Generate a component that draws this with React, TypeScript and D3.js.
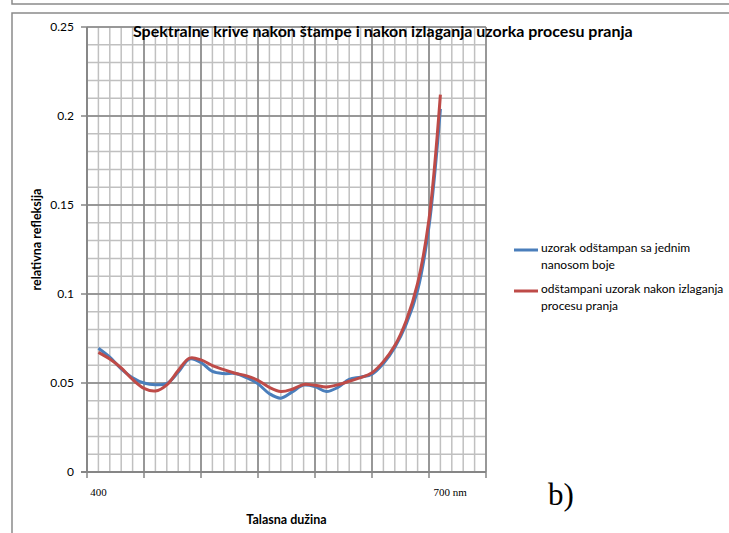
import { useEffect, useRef } from 'react';
import * as d3 from 'd3';

// Wavelengths (nm), 10 nm steps
const wavelengths = [
  400, 410, 420, 430, 440, 450, 460, 470, 480, 490, 500, 510, 520, 530, 540, 550,
  560, 570, 580, 590, 600, 610, 620, 630, 640, 650, 660, 670, 680, 690, 700,
];

// uzorak odštampan sa jednim nanosom boje
const printedValues = [
  0.0695, 0.0645, 0.058, 0.053, 0.05, 0.049, 0.0497, 0.056, 0.0635, 0.0615, 0.0565,
  0.0553, 0.0553, 0.053, 0.0495, 0.044, 0.0415, 0.045, 0.0488, 0.048, 0.0452, 0.0475,
  0.052, 0.0533, 0.055, 0.061, 0.07, 0.083, 0.102, 0.138, 0.204,
];

// odštampani uzorak nakon izlaganja procesu pranja
const washedValues = [
  0.0672, 0.0635, 0.0585, 0.052, 0.047, 0.0455, 0.049, 0.057, 0.064, 0.063, 0.0598,
  0.0575, 0.0555, 0.054, 0.0515, 0.0475, 0.0452, 0.0465, 0.0492, 0.0487, 0.0478, 0.049,
  0.051, 0.053, 0.0558, 0.062, 0.071, 0.085, 0.106, 0.142, 0.212,
];

const yTicks = [0, 0.05, 0.1, 0.15, 0.2, 0.25];
const seriesNames = [
  ['uzorak odštampan sa jednim', 'nanosom boje'],
  ['odštampani uzorak nakon izlaganja', 'procesu pranja'],
];
const seriesColors = ['#4a7ebb', '#be4b48'];

const title = 'Spektralne krive nakon štampe i nakon izlaganja uzorka procesu pranja';
const FONT = 'Lato, "Liberation Sans", sans-serif';
const SERIF = '"Liberation Serif", "DejaVu Serif", serif';

export default function App() {
  const svgRef = useRef<SVGSVGElement>(null);

  useEffect(() => {
    if (!svgRef.current) return;
    const svg = d3.select(svgRef.current);
    svg.selectAll('*').remove();

    const left = 87;
    const right = 486;
    const top = 27;
    const bottom = 472;

    const x = d3.scaleLinear().domain([390, 740]).range([left, right]);
    const y = d3.scaleLinear().domain([0, 0.25]).range([bottom, top]);

    // page frames
    svg.append('path').attr('d', 'M12,0 V4 H729').attr('fill', 'none').attr('stroke', '#8a8a8a').attr('stroke-width', 1.5);
    svg.append('path').attr('d', 'M12,533 V13 H729').attr('fill', 'none').attr('stroke', '#8a8a8a').attr('stroke-width', 1.5);

    // minor grid
    const minorY = d3.range(0, 0.2501, 0.01);
    svg.append('g')
      .selectAll('line')
      .data(minorY)
      .join('line')
      .attr('x1', left)
      .attr('x2', right)
      .attr('y1', (d) => y(d))
      .attr('y2', (d) => y(d))
      .attr('stroke', '#c0c0c0')
      .attr('stroke-width', 1.5);
    const minorX = d3.range(390, 741, 10);
    svg.append('g')
      .selectAll('line')
      .data(minorX)
      .join('line')
      .attr('x1', (d) => x(d))
      .attr('x2', (d) => x(d))
      .attr('y1', top)
      .attr('y2', bottom)
      .attr('stroke', '#c0c0c0')
      .attr('stroke-width', 1.5);

    // major grid
    svg.append('g')
      .selectAll('line')
      .data(yTicks)
      .join('line')
      .attr('x1', left - 6)
      .attr('x2', right)
      .attr('y1', (d) => y(d))
      .attr('y2', (d) => y(d))
      .attr('stroke', '#868686')
      .attr('stroke-width', 1.5);
    const majorX = d3.range(390, 741, 50);
    svg.append('g')
      .selectAll('line')
      .data(majorX)
      .join('line')
      .attr('x1', (d) => x(d))
      .attr('x2', (d) => x(d))
      .attr('y1', top)
      .attr('y2', bottom + 6)
      .attr('stroke', '#868686')
      .attr('stroke-width', 1.5);

    // axes lines
    svg.append('line').attr('x1', left).attr('x2', left).attr('y1', top).attr('y2', bottom)
      .attr('stroke', '#868686').attr('stroke-width', 1.8);
    svg.append('line').attr('x1', left - 6).attr('x2', right).attr('y1', bottom).attr('y2', bottom)
      .attr('stroke', '#868686').attr('stroke-width', 1.8);

    // y tick labels
    svg.append('g')
      .selectAll('text')
      .data(yTicks)
      .join('text')
      .attr('x', left - 13)
      .attr('y', (d) => y(d))
      .attr('dy', '0.35em')
      .attr('text-anchor', 'end')
      .attr('font-family', FONT)
      .attr('font-size', 12)
      .text((d) => (d === 0 ? '0' : String(d)));

    // x labels (serif text boxes)
    svg.append('text').attr('x', x(400)).attr('y', 496).attr('text-anchor', 'middle')
      .attr('font-family', SERIF).attr('font-size', 11).text('400');
    svg.append('text').attr('x', x(700) - 7).attr('y', 496)
      .attr('font-family', SERIF).attr('font-size', 11).text('700 nm');

    // axis titles
    svg.append('text').attr('x', (left + right) / 2).attr('y', 524).attr('text-anchor', 'middle')
      .attr('font-family', FONT).attr('font-weight', 'bold').attr('font-size', 12.5).text('Talasna dužina');
    svg.append('text').attr('transform', `translate(41,${(top + bottom) / 2 - 10}) rotate(-90)`)
      .attr('text-anchor', 'middle').attr('font-family', FONT).attr('font-weight', 'bold')
      .attr('font-size', 12.5).text('relativna refleksija');

    // title
    svg.append('text').attr('x', 133).attr('y', 37).attr('font-family', FONT).attr('font-weight', 'bold')
      .attr('font-size', 16).text(title);

    // lines
    const line = d3.line<number>()
      .x((_, i) => x(wavelengths[i]))
      .y((d) => y(d))
      .curve(d3.curveCatmullRom.alpha(0.5));
    [printedValues, washedValues].forEach((vals, i) => {
      svg.append('path').attr('d', line(vals)).attr('fill', 'none')
        .attr('stroke', seriesColors[i]).attr('stroke-width', 3).attr('stroke-linejoin', 'round');
    });

    // legend
    const legendY = [250, 291];
    seriesNames.forEach((lines, i) => {
      const g = svg.append('g');
      g.append('line').attr('x1', 514).attr('x2', 538).attr('y1', legendY[i]).attr('y2', legendY[i])
        .attr('stroke', seriesColors[i]).attr('stroke-width', 3);
      lines.forEach((t, j) => {
        g.append('text').attr('x', 541).attr('y', legendY[i] - 2 + j * 17).attr('dy', '0.35em')
          .attr('font-family', FONT).attr('font-size', 12).text(t);
      });
    });

    // panel label
    svg.append('text').attr('x', 548).attr('y', 505).attr('font-family', SERIF).attr('font-size', 31).text('b)');
  }, []);

  return (
    <svg
      ref={svgRef}
      width={729}
      height={533}
      style={{ position: 'absolute', left: 0, top: 0, background: '#fff' }}
    />
  );
}
